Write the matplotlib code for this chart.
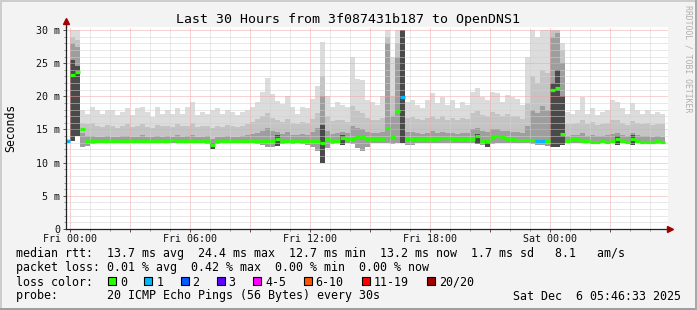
"""SmokePing style latency chart: last 30 hours to OpenDNS1."""

import matplotlib

matplotlib.use("Agg")
import matplotlib.pyplot as plt
import numpy as np
from matplotlib.patches import Rectangle
from matplotlib.ticker import FuncFormatter, MultipleLocator

W, H, DPI = 697, 310, 100
MONO = "DejaVu Sans Mono"

# 15 minute bins, hours relative to Fri 00:00 (first bin starts Thu 23:45)
BIN_START = -0.25
BIN_HOURS = 0.25

# median rtt per bin (ms)
median_ms = [
    13.2, 23.2, 23.6, 15.1, 13.2, 13.2, 13.2, 13.2, 13.2, 13.2,
    13.2, 13.3, 13.2, 13.2, 13.3, 13.2, 13.2, 13.3, 13.2, 13.2,
    13.2, 13.4, 13.3, 13.2, 13.2, 13.3, 13.2, 13.2, 13.2, 12.7,
    13.2, 13.2, 13.3, 13.2, 13.2, 13.2, 13.3, 13.2, 13.2, 13.3,
    13.3, 13.2, 13.6, 13.3, 13.3, 13.2, 13.3, 13.3, 13.3, 13.2,
    13.2, 13.0, 13.5, 13.3, 13.3, 13.7, 13.5, 13.6, 13.9, 13.9,
    13.5, 13.5, 13.5, 13.5, 15.3, 13.8, 17.8, 19.9, 13.5, 13.5,
    13.5, 13.5, 13.5, 13.5, 13.5, 13.7, 13.7, 13.5, 13.5, 13.5,
    13.5, 13.6, 14.0, 13.3, 13.2, 13.9, 14.0, 13.8, 13.6, 13.5,
    13.4, 13.4, 13.4, 13.4, 13.3, 13.3, 13.2, 20.9, 21.3, 14.3,
    13.2, 13.5, 13.5, 13.2, 13.2, 13.1, 13.1, 13.2, 13.1, 13.2,
    13.5, 13.2, 13.1, 13.5, 13.2, 13.1, 13.1, 13.1, 13.2, 13.1,
]

# lost pings (of 20) per bin
lost_pings = [
    1, 0, 0, 0, 0, 0, 0, 0, 0, 0,
    0, 0, 0, 0, 0, 0, 0, 0, 0, 0,
    0, 0, 0, 0, 0, 0, 0, 0, 0, 0,
    0, 0, 0, 0, 0, 0, 0, 0, 0, 0,
    0, 0, 0, 0, 0, 0, 0, 0, 0, 0,
    0, 0, 0, 0, 0, 0, 0, 0, 0, 0,
    0, 0, 0, 0, 0, 0, 0, 1, 0, 0,
    0, 0, 0, 0, 0, 0, 0, 0, 0, 0,
    0, 0, 0, 0, 0, 0, 0, 0, 0, 0,
    0, 0, 0, 0, 1, 1, 0, 0, 0, 0,
    0, 0, 0, 0, 0, 0, 0, 0, 0, 0,
    0, 0, 0, 0, 0, 0, 0, 0, 0, 0,
]

# smoke: highest ping per bin (ms)
smoke_top = [
    13.6, 30.0, 30.0, 18.0, 17.4, 18.4, 17.9, 17.4, 17.9, 17.9,
    17.2, 17.6, 18.2, 17.2, 18.2, 18.4, 17.6, 16.9, 18.4, 17.4,
    17.9, 17.4, 18.2, 17.4, 18.4, 19.2, 17.2, 17.6, 17.4, 17.9,
    18.2, 17.4, 17.9, 17.6, 17.2, 17.6, 17.9, 18.4, 19.2, 20.6,
    22.8, 20.4, 19.3, 18.8, 20.0, 18.4, 17.4, 18.4, 18.2, 19.6,
    21.5, 28.2, 20.0, 18.4, 19.2, 18.7, 18.4, 26.0, 22.6, 22.5,
    19.4, 19.2, 18.7, 20.0, 30.0, 26.0, 30.0, 30.0, 19.2, 19.4,
    18.7, 18.2, 19.4, 20.5, 19.0, 19.9, 18.7, 19.4, 18.2, 19.2,
    18.7, 20.7, 21.2, 19.9, 19.4, 20.7, 20.5, 19.2, 20.2, 19.9,
    19.6, 18.7, 26.0, 30.0, 29.0, 30.0, 30.0, 30.0, 30.0, 28.0,
    17.6, 17.4, 17.9, 19.9, 17.4, 18.2, 17.2, 17.6, 17.9, 19.4,
    19.2, 18.2, 17.4, 19.0, 17.9, 17.4, 17.9, 17.4, 17.6, 17.4,
]

# smoke: upper edge of the denser (medium grey) band
smoke_mid = [
    13.4, 29.0, 28.5, 16.0, 15.8, 16.0, 15.6, 15.4, 15.7, 15.5,
    15.3, 15.6, 15.8, 15.4, 15.5, 15.9, 15.4, 15.3, 15.7, 15.5,
    15.6, 15.4, 15.8, 15.5, 15.6, 16.0, 15.4, 15.5, 15.6, 15.3,
    15.5, 15.4, 15.7, 15.5, 15.4, 15.6, 15.8, 16.2, 16.6, 17.0,
    17.5, 16.8, 16.5, 16.2, 16.6, 16.0, 15.8, 16.2, 16.0, 16.6,
    17.5, 23.0, 17.0, 16.3, 16.5, 16.4, 16.2, 18.5, 17.8, 17.5,
    16.8, 16.5, 16.4, 16.8, 29.0, 20.0, 28.0, 30.0, 16.8, 16.9,
    16.6, 16.4, 16.8, 17.0, 16.6, 17.0, 16.5, 16.8, 16.4, 16.7,
    16.6, 17.5, 17.8, 17.2, 17.0, 17.6, 17.4, 17.0, 17.3, 17.0,
    17.0, 16.6, 19.0, 23.0, 22.0, 24.0, 23.5, 30.0, 30.0, 27.0,
    15.8, 15.9, 16.0, 16.5, 15.8, 16.2, 15.7, 15.9, 16.0, 16.4,
    16.4, 16.0, 15.7, 16.3, 16.0, 15.8, 16.0, 15.7, 15.9, 15.8,
]

# smoke: upper edge of the dark band close to the median
smoke_dark = [
    13.3, 28.0, 27.5, 14.5, 14.0, 14.0, 13.9, 13.9, 14.0, 13.9,
    13.9, 14.0, 14.0, 13.9, 13.9, 14.1, 13.9, 13.9, 14.0, 13.9,
    14.0, 13.9, 14.1, 13.9, 14.0, 14.1, 13.9, 13.9, 14.0, 13.6,
    13.9, 13.9, 14.0, 13.9, 13.9, 14.0, 14.1, 14.3, 14.5, 14.8,
    15.2, 14.8, 14.6, 14.3, 14.6, 14.2, 14.1, 14.3, 14.2, 14.6,
    15.2, 20.0, 14.8, 14.3, 14.4, 14.6, 14.4, 15.5, 15.2, 15.0,
    14.6, 14.4, 14.4, 14.6, 28.0, 17.0, 26.0, 30.0, 14.6, 14.6,
    14.4, 14.3, 14.5, 14.7, 14.4, 14.6, 14.4, 14.5, 14.3, 14.5,
    14.4, 15.0, 15.3, 14.8, 14.6, 15.0, 15.0, 14.7, 14.8, 14.6,
    14.6, 14.4, 15.5, 18.0, 17.5, 18.5, 18.0, 29.0, 29.5, 25.0,
    14.0, 14.2, 14.2, 14.4, 14.0, 14.2, 14.0, 14.0, 14.1, 14.3,
    14.4, 14.1, 14.0, 14.4, 14.1, 14.0, 14.0, 13.9, 14.0, 13.9,
]

# dark core of the spikes (0 = none)
smoke_core = [
    0, 25.5, 24.5, 0, 0, 0, 0, 0, 0, 0,
    0, 0, 0, 0, 0, 0, 0, 0, 0, 0,
    0, 0, 0, 0, 0, 0, 0, 0, 0, 13.0,
    0, 0, 0, 0, 0, 0, 0, 0, 0, 0,
    0, 0, 14.2, 0, 0, 0, 0, 0, 0, 0,
    0, 15.7, 0, 0, 0, 14.2, 0, 0, 0, 0,
    0, 0, 0, 0, 0, 0, 0, 30.0, 0, 0,
    0, 0, 0, 0, 0, 0, 0, 0, 0, 0,
    0, 0, 14.3, 0, 13.2, 0, 0, 0, 0, 0,
    0, 0, 0, 0, 0, 0, 0, 22.0, 24.0, 20.0,
    0, 0, 0, 0, 0, 0, 0, 0, 0, 0,
    14.0, 0, 0, 14.2, 0, 0, 0, 0, 0, 0,
]

# smoke: lowest ping per bin (ms)
smoke_low = [
    13.0, 13.3, 14.0, 12.4, 12.5, 12.8, 13.0, 12.9, 13.0, 12.9,
    13.0, 12.9, 13.0, 13.0, 12.9, 13.0, 13.0, 12.9, 13.0, 13.0,
    12.9, 13.0, 13.0, 12.9, 13.0, 13.0, 12.9, 13.0, 12.8, 12.0,
    12.8, 13.0, 12.9, 13.0, 13.0, 12.9, 13.0, 12.9, 12.8, 12.7,
    12.4, 12.3, 12.5, 12.8, 12.9, 12.8, 12.9, 12.8, 12.7, 12.4,
    11.8, 9.9, 12.2, 12.8, 12.9, 12.7, 12.9, 12.8, 12.2, 11.7,
    12.3, 12.9, 13.0, 12.9, 13.0, 12.8, 13.0, 13.0, 12.7, 12.6,
    12.9, 13.0, 12.9, 13.0, 12.9, 13.0, 12.9, 13.0, 13.0, 12.9,
    13.0, 12.9, 12.8, 12.6, 12.3, 12.8, 12.9, 13.0, 12.9, 13.0,
    12.9, 13.0, 12.9, 12.8, 12.7, 12.6, 12.5, 12.4, 12.4, 12.6,
    12.9, 13.0, 12.9, 12.9, 12.9, 12.8, 12.9, 12.9, 12.8, 12.9,
    12.7, 12.9, 12.9, 12.7, 12.9, 12.8, 12.9, 12.9, 12.8, 12.9,
]

loss_labels = ["0", "1", "2", "3", "4-5", "6-10", "11-19", "20/20"]
loss_colors = ["#26ff00", "#00b8ff", "#0059ff", "#5e00ff",
               "#ff00ff", "#ff5500", "#ff0000", "#a10000"]
loss_upper = [0, 1, 2, 3, 5, 10, 19, 20]  # upper bound of each loss class

title = "Last 30 Hours from 3f087431b187 to OpenDNS1"
stat_lines = [
    "median rtt:  13.7 ms avg  24.4 ms max  12.7 ms min  13.2 ms now  1.7 ms sd   8.1   am/s",
    "packet loss: 0.01 % avg  0.42 % max  0.00 % min  0.00 % now",
]
probe_text = "probe:       20 ICMP Echo Pings (56 Bytes) every 30s"
stamp_text = "Sat Dec  6 05:46:33 2025"
LEGEND_PT = 8.4


def fx(x):
    return x / W


def fy(y):
    return 1 - y / H


def loss_color(n):
    for upper, col in zip(loss_upper, loss_colors):
        if n <= upper:
            return col
    return loss_colors[-1]


fig = plt.figure(figsize=(W / DPI, H / DPI), dpi=DPI)
fig.patch.set_facecolor("#f3f3f3")

# plot area in pixels: x 66..668, y 27..229
ax = fig.add_axes([fx(66), fy(229), fx(668 - 66), (229 - 27) / H])
ax.set_facecolor("white")
ax.set_xlim(-0.2, 29.9)
ax.set_ylim(0, 30.45)

low = np.array(smoke_low)
edges = BIN_START + BIN_HOURS * np.arange(len(median_ms) + 1)
core = np.array(smoke_core)

ax.stairs(smoke_top, edges, baseline=low, fill=True, color="#dcdcdc", lw=0, zorder=1)
ax.stairs(smoke_mid, edges, baseline=low, fill=True, color="#c4c4c4", lw=0, zorder=1.1)
ax.stairs(smoke_dark, edges, baseline=low, fill=True, color="#9e9e9e", lw=0, zorder=1.2)
ax.stairs(np.where(core > 0, core, low), edges, baseline=low, fill=True,
          color="#4a4a4a", lw=0, zorder=1.3)

med = ax.hlines(median_ms, edges[:-1], edges[1:],
                colors=[loss_color(n) for n in lost_pings], lw=2.3, zorder=4)
med.set_capstyle("butt")

# grid: red every 3 h / 5 ms, grey every 1 h / 1 ms
ax.xaxis.set_major_locator(MultipleLocator(3))
ax.xaxis.set_minor_locator(MultipleLocator(1))
ax.yaxis.set_major_locator(MultipleLocator(5))
ax.yaxis.set_minor_locator(MultipleLocator(1))


def xlabel(v, pos):
    h = int(round(v))
    if h % 6:
        return ""
    day = "Fri" if h < 24 else "Sat"
    return f"{day} {h % 24:02d}:00"


def ylabel(v, pos):
    v = int(round(v))
    return "0" if v == 0 else f"{v} m"


ax.xaxis.set_major_formatter(FuncFormatter(xlabel))
ax.yaxis.set_major_formatter(FuncFormatter(ylabel))
ax.set_axisbelow(False)
ax.grid(which="major", color="#f2a4a4", linestyle=(0, (1, 1)), lw=0.72)
ax.grid(which="minor", color="#d2d2d2", linestyle=(0, (1, 1)), lw=0.72)

ax.tick_params(which="major", length=2.2, width=0.72, color="#555555",
               labelsize=7.2, labelcolor="#111111")
ax.tick_params(which="minor", length=1.5, width=0.72, color="#999999")
ax.tick_params(axis="x", pad=1.2)
ax.tick_params(axis="y", pad=2.2)
for lab in ax.get_xticklabels() + ax.get_yticklabels():
    lab.set_family(MONO)

for side in ("top", "right"):
    ax.spines[side].set_visible(False)
for side in ("left", "bottom"):
    ax.spines[side].set_color("#222222")
    ax.spines[side].set_linewidth(0.9)
    ax.spines[side].set_zorder(5)

# axis arrows
ax.plot([0, 0], [1, 1.025], transform=ax.transAxes, color="#222222",
        lw=0.9, clip_on=False, zorder=5)
ax.plot([0], [1.03], transform=ax.transAxes, marker="^", ms=4.5,
        color="#a00000", clip_on=False, zorder=6)
ax.plot([1.004], [0], transform=ax.transAxes, marker=">", ms=4.5,
        color="#a00000", clip_on=False, zorder=6)

# texts
fig.text(fx(348), fy(19), title, family=MONO, fontsize=9.5,
         ha="center", va="center")
fig.text(fx(11), fy(128), "Seconds", family=MONO, fontsize=8.3,
         rotation=90, ha="center", va="center")
fig.text(fx(688), fy(5), "RRDTOOL / TOBI OETIKER", family=MONO,
         fontsize=5.9, rotation=270, ha="center", va="top", color="#b0b0b0")

for i, line in enumerate(stat_lines):
    fig.text(fx(16), fy(254 + 14 * i), line, family=MONO, fontsize=LEGEND_PT,
             ha="left", va="center")

fig.text(fx(16), fy(282), "loss color:", family=MONO, fontsize=LEGEND_PT,
         ha="left", va="center")
bx = 108
for lab, col in zip(loss_labels, loss_colors):
    fig.add_artist(Rectangle((fx(bx), fy(285)), fx(8), 8 / H,
                             facecolor=col, edgecolor="black", lw=0.8,
                             transform=fig.transFigure))
    fig.text(fx(bx + 12), fy(282), lab, family=MONO, fontsize=LEGEND_PT,
             ha="left", va="center")
    bx += (len(lab) + 4) * 7.25

fig.text(fx(16), fy(296), probe_text, family=MONO, fontsize=LEGEND_PT,
         ha="left", va="center")
fig.text(fx(681), fy(296), stamp_text, family=MONO, fontsize=LEGEND_PT,
         ha="right", va="center")

# bevelled frame
for x0, y0, w, h, c in [(0, H - 2, W, 2, "#cdcdcd"), (0, 0, 2, H, "#cdcdcd"),
                        (0, 0, W, 2, "#9f9f9f"), (W - 2, 0, 2, H, "#a8a8a8")]:
    fig.add_artist(Rectangle((x0 / W, y0 / H), w / W, h / H, facecolor=c,
                             lw=0, transform=fig.transFigure))

fig.savefig("out.png", dpi=DPI, facecolor=fig.get_facecolor())
